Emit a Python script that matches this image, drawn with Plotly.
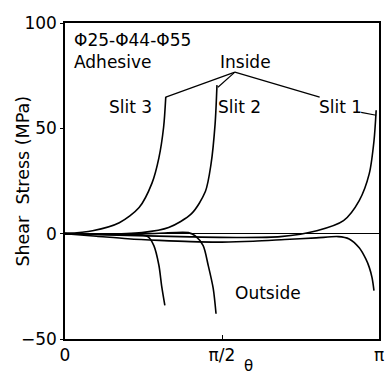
import numpy as np
import plotly.graph_objects as go

# theta values given as fractions of pi, stress in MPa
slit3_in_t = [0, 0.088, 0.173, 0.236, 0.277, 0.299, 0.314, 0.321]
slit3_in_v = [0, 1.4, 5.2, 12.4, 24, 36, 50.5, 65]

slit2_in_t = [0, 0.12, 0.245, 0.330, 0.403, 0.447, 0.465, 0.478, 0.484]
slit2_in_v = [0, -0.3, 0.5, 2.9, 9.5, 20, 33, 52, 70.5]

slit1_in_t = [0, 0.2, 0.4, 0.55, 0.686, 0.802, 0.887, 0.937, 0.969, 0.984, 0.991]
slit1_in_v = [0, -0.8, -1.5, -1.8, -1.4, 1.4, 6.2, 15.7, 28.5, 44, 58.6]

slit3_out_t = [0, 0.1, 0.2, 0.245, 0.265, 0.283, 0.299, 0.308, 0.318]
slit3_out_v = [0, -0.3, -0.5, -0.6, -1.5, -5.7, -15, -25, -34]

slit2_out_t = [0, 0.2, 0.3, 0.393, 0.415, 0.44, 0.456, 0.472, 0.481]
slit2_out_v = [0, -0.3, 0.2, 0.5, -1.0, -5.7, -15, -26, -38]

slit1_out_t = [0, 0.1, 0.2, 0.3, 0.4, 0.5, 0.6, 0.7, 0.8, 0.87, 0.905, 0.937, 0.958, 0.969, 0.978, 0.984]
slit1_out_v = [0, -1.2, -2.4, -3.2, -3.8, -4.0, -3.6, -2.8, -2.0, -1.4, -2.5, -6.7, -12, -16, -21, -27]

x_tick_vals = [0, 0.5, 1.0]
x_tick_text = ["0", "π/2", "π"]
y_tick_vals = [-50, 0, 50, 100]

FONT = "DejaVu Sans"
fig = go.Figure()

series = [
    (slit3_in_t, slit3_in_v), (slit2_in_t, slit2_in_v), (slit1_in_t, slit1_in_v),
    (slit3_out_t, slit3_out_v), (slit2_out_t, slit2_out_v), (slit1_out_t, slit1_out_v),
]
for t, v in series:
    fig.add_trace(go.Scatter(x=np.array(t) * np.pi, y=v, mode="lines",
                             line=dict(color="black", width=1.6, shape="spline", smoothing=0.8),
                             showlegend=False, hoverinfo="skip"))

P = np.pi
# leader lines
leaders = [
    (0.541, 76.7, 0.321, 64.8),
    (0.541, 76.7, 0.487, 69.5),
    (0.541, 76.7, 0.811, 64.8),
    (0.943, 57.6, 0.991, 56.2),
]
for x0, y0, x1, y1 in leaders:
    fig.add_shape(type="line", x0=x0 * P, y0=y0, x1=x1 * P, y1=y1, xref="x", yref="y",
                  line=dict(color="black", width=1.2))

texts = [
    ("Φ25-Φ44-Φ55", 0.022, 92, "left"),
    ("Adhesive", 0.022, 81.4, "left"),
    ("Inside", 0.575, 81.4, "center"),
    ("Slit 3", 0.208, 60, "center"),
    ("Slit 2", 0.557, 60, "center"),
    ("Slit 1", 0.877, 60, "center"),
    ("Outside", 0.645, -28, "center"),
]
for txt, x, y, anc in texts:
    fig.add_annotation(x=x * P, y=y, text=txt, showarrow=False, xanchor=anc, yanchor="middle",
                       font=dict(family=FONT, size=17, color="black"))

fig.add_annotation(x=0.585 * P, y=-0.085, yref="paper", text="θ", showarrow=False,
                   xanchor="center", yanchor="middle", font=dict(family=FONT, size=15, color="black"))

fig.add_annotation(x=-0.135, xref="paper", y=0.5, yref="paper", text="Shear  Stress (MPa)",
                   textangle=-90, showarrow=False, xanchor="center", yanchor="middle",
                   font=dict(family=FONT, size=17.5, color="black"))

fig.update_layout(
    width=389, height=376,
    margin=dict(l=65, r=5, t=23, b=37),
    paper_bgcolor="white", plot_bgcolor="white",
    font=dict(family=FONT, size=17, color="black"),
)
fig.update_xaxes(range=[0, P], tickvals=[v * P for v in x_tick_vals], ticktext=x_tick_text,
                 showgrid=False, zeroline=False, showline=True, linecolor="black", linewidth=1.5,
                 mirror=True, ticks="inside", ticklen=4, tickcolor="black",
                 tickfont=dict(family=FONT, size=17, color="black"))
fig.update_yaxes(range=[-50, 100], tickvals=y_tick_vals, showgrid=False,
                 zeroline=True, zerolinecolor="black", zerolinewidth=1.2,
                 showline=True, linecolor="black", linewidth=1.5, mirror=True,
                 ticks="outside", ticklen=3, tickcolor="black",
                 tickfont=dict(family=FONT, size=17, color="black"))

fig.write_html("out.html")
